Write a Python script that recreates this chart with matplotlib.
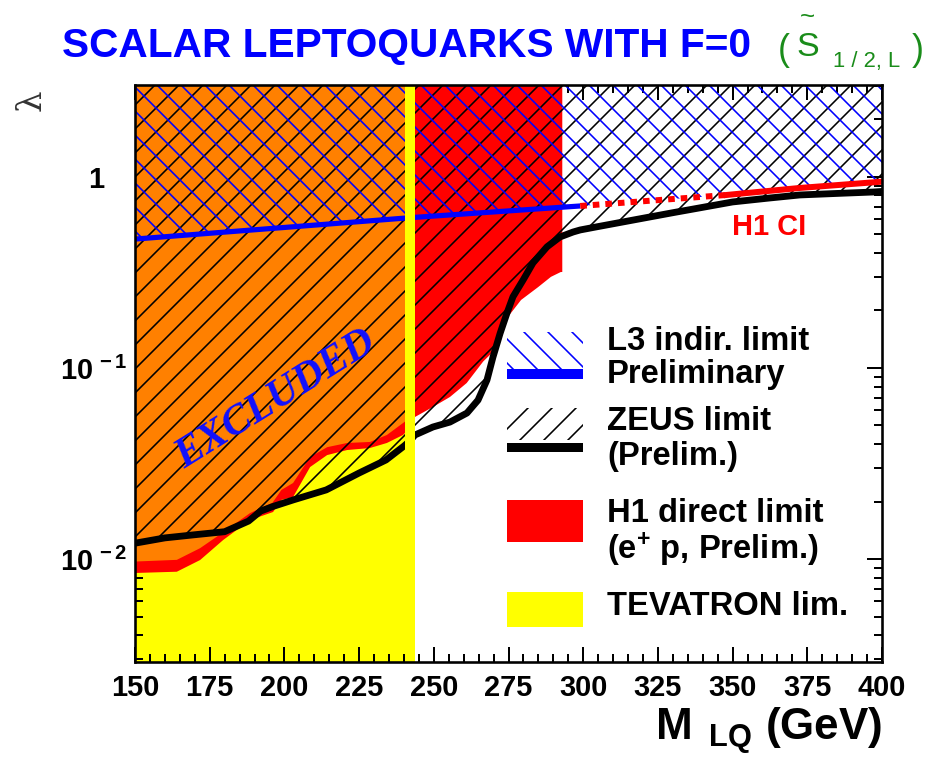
import matplotlib
matplotlib.use("Agg")
import matplotlib.pyplot as plt
from matplotlib.ticker import FixedLocator, MultipleLocator, LogLocator, FixedFormatter, NullFormatter
from matplotlib.patches import Rectangle

# ---------------- data ----------------
# ZEUS limit (black line), lambda vs M_LQ
zeus_m = [150, 160, 170, 180, 188, 192, 196, 203, 214, 225, 234, 240, 242,
          243.7, 249.7, 255.4, 261.1, 264.8, 267.8, 269.8, 272.2, 274.5, 276.5,
          279.9, 283.2, 287.9, 292.2, 296.6, 299, 305, 317, 330, 339, 350, 362,
          372.5, 385, 397, 400]
zeus_lam = [0.0121, 0.0129, 0.0134, 0.0139, 0.0158, 0.0178, 0.0188, 0.0204, 0.0230,
            0.0282, 0.0330, 0.0390, 0.0415,
            0.0446, 0.0491, 0.0521, 0.0581, 0.0679, 0.0865, 0.114, 0.152, 0.194, 0.236,
            0.289, 0.355, 0.431, 0.485, 0.515, 0.528, 0.55, 0.596, 0.65, 0.689, 0.740, 0.775,
            0.805, 0.82, 0.834, 0.84]

# H1 direct limit (red region lower boundary)
h1_m = [150, 164, 171.8, 179.5, 188.5, 196.2, 199, 202.9, 208.6, 214.3, 221, 228.6,
        234.3, 239.7, 242, 243.7, 249.7, 255.4, 261, 266.5, 271.5, 274.8, 279.2,
        284.9, 289.2, 292.5, 293]
h1_lam = [0.00845, 0.00858, 0.00988, 0.01257, 0.0160, 0.01762, 0.0204, 0.0211, 0.0303,
          0.0350, 0.0372, 0.0381, 0.0405, 0.0446, 0.0485, 0.0554, 0.0625, 0.0705, 0.0834,
          0.108, 0.129, 0.185, 0.227, 0.265, 0.300, 0.318, 0.318]

# overlap of H1 and TEVATRON exclusions (orange region lower boundary)
both_m = [150, 164, 171.8, 179.5, 188.5, 196, 199, 202.9, 208.6, 214.3, 221, 228.6,
          234.3, 239.7, 242]
both_lam = [0.0097, 0.0099, 0.0114, 0.0138, 0.0174, 0.0197, 0.0230, 0.0250, 0.0342,
            0.0385, 0.0405, 0.0410, 0.0446, 0.0515, 0.0548]

# L3 indirect limit
l3_m = [150, 242, 299, 348, 400]
l3_lam = [0.473, 0.612, 0.705, 0.805, 0.945]
l3_line_end = 299

# H1 contact-interaction limit
ci_dot_m = [299, 348]
ci_dot_lam = [0.705, 0.805]
ci_sol_m = [348, 372.5, 400]
ci_sol_lam = [0.805, 0.876, 0.945]

# TEVATRON mass limit
tevatron_limit = 242

x_ticks = [150, 175, 200, 225, 250, 275, 300, 325, 350, 375, 400]
y_ticks = [0.01, 0.1, 1]
y_tick_labels = [r"$10^{\,-2}$", r"$10^{\,-1}$", "1"]

XMIN, XMAX = 150, 400
YMIN, YMAX = 0.00289, 3.03
TOP = 10.0

# ---------------- style ----------------
plt.rcParams["font.family"] = ["Liberation Sans", "DejaVu Sans"]
plt.rcParams["font.weight"] = "bold"
plt.rcParams["mathtext.fontset"] = "custom"
plt.rcParams["mathtext.rm"] = "Liberation Sans:bold"
plt.rcParams["mathtext.it"] = "Liberation Sans:italic:bold"
plt.rcParams["mathtext.bf"] = "Liberation Sans:bold"
plt.rcParams["mathtext.default"] = "rm"
plt.rcParams["hatch.linewidth"] = 0.8

DPI = 144
fig = plt.figure(figsize=(944 / DPI, 760 / DPI), dpi=DPI)
fig.patch.set_facecolor("white")
ax = fig.add_axes([135 / 944, 1 - 662 / 760, (882 - 135) / 944, (662 - 85) / 760])
ax.set_yscale("log")
ax.set_xlim(XMIN, XMAX)
ax.set_ylim(YMIN, YMAX)

ORANGE = "#ff8000"
RED = "#ff0000"
YELLOW = "#ffff00"
BLUE = "#0000ff"

# TEVATRON excluded column
ax.fill_between([XMIN, tevatron_limit], [YMIN * 0.5] * 2, [TOP] * 2,
                facecolor=YELLOW, edgecolor="none", zorder=1)
# H1 direct
ax.fill_between(h1_m, h1_lam, TOP, facecolor=RED, edgecolor="none", zorder=2)
# overlap region
ax.fill_between(both_m, both_lam, TOP, facecolor=ORANGE, edgecolor="none", zorder=3)
# ZEUS hatch
ax.fill_between(zeus_m, zeus_lam, TOP, facecolor="none", edgecolor="black",
                hatch="//", linewidth=0, zorder=4)
# L3 hatch
ax.fill_between(l3_m, l3_lam, TOP, facecolor="none", edgecolor=BLUE,
                hatch="\\\\", linewidth=0, zorder=5)

# lines
l3_mx = [m for m in l3_m if m <= l3_line_end]
l3_ly = [v for m, v in zip(l3_m, l3_lam) if m <= l3_line_end]
ax.plot(l3_mx, l3_ly, color=BLUE, lw=2.6, zorder=6, solid_capstyle="butt")
ax.plot(zeus_m, zeus_lam, color="black", lw=3.4, zorder=6)
ax.plot(ci_dot_m, ci_dot_lam, color=RED, lw=3.0, zorder=6,
        linestyle=(0, (1.1, 1.0)), dash_capstyle="butt")
ax.plot(ci_sol_m, ci_sol_lam, color=RED, lw=3.0, zorder=6)
ax.axvline(tevatron_limit, color=YELLOW, lw=5, zorder=7)

# ticks
ax.xaxis.set_major_locator(FixedLocator(x_ticks))
ax.xaxis.set_minor_locator(MultipleLocator(5))
ax.yaxis.set_major_locator(FixedLocator(y_ticks))
ax.yaxis.set_major_formatter(FixedFormatter(y_tick_labels))
ax.yaxis.set_minor_locator(LogLocator(base=10, subs=[2, 3, 4, 5, 6, 7, 8, 9]))
ax.yaxis.set_minor_formatter(NullFormatter())
ax.tick_params(which="both", direction="in", top=True, right=True, width=1.0,
               color="black", zorder=8)
ax.tick_params(which="major", length=7.5)
ax.tick_params(which="minor", length=4)
ax.tick_params(axis="x", which="major", labelsize=14.5, pad=6)
ax.tick_params(axis="y", which="major", labelsize=14.5, pad=4)
for s in ax.spines.values():
    s.set_linewidth(1.3)
    s.set_zorder(8)

ax.set_xlabel(r"M $_{\,\rm LQ}$ (GeV)", fontsize=22, fontweight="bold", loc="right")
ax.xaxis.set_label_coords(1.0, -0.075)

# texts in plot
ax.text(0.189, 0.454, "EXCLUDED", transform=ax.transAxes, rotation=32,
        rotation_mode="anchor", ha="center", va="center", color="#1010ff",
        fontsize=21, fontweight="bold", fontstyle="italic",
        family=["Liberation Serif", "DejaVu Serif"], zorder=9)
ax.text(0.799, 0.740, "H1 CI", transform=ax.transAxes, color=RED,
        fontsize=14.5, fontweight="bold", zorder=9)

# legend (drawn by hand, as in the original)
lx, lw_ = 0.498, 0.102
ax.add_patch(Rectangle((lx, 0.506), lw_, 0.066, transform=ax.transAxes,
                       facecolor="white", edgecolor=BLUE, hatch="\\\\", lw=0, zorder=9))
ax.add_patch(Rectangle((lx, 0.4905), lw_, 0.0173, transform=ax.transAxes,
                       facecolor=BLUE, edgecolor="none", zorder=9))
ax.add_patch(Rectangle((lx, 0.3847), lw_, 0.0555, transform=ax.transAxes,
                       facecolor="white", edgecolor="black", hatch="//", lw=0, zorder=9))
ax.add_patch(Rectangle((lx, 0.364), lw_, 0.0155, transform=ax.transAxes,
                       facecolor="black", edgecolor="none", zorder=9))
ax.add_patch(Rectangle((lx, 0.208), lw_, 0.0728, transform=ax.transAxes,
                       facecolor=RED, edgecolor="none", zorder=9))
ax.add_patch(Rectangle((lx, 0.0607), lw_, 0.0606, transform=ax.transAxes,
                       facecolor=YELLOW, edgecolor="none", zorder=9))

leg_texts = [("L3 indir. limit", 0.5407), ("Preliminary", 0.4835),
             ("ZEUS limit", 0.4021), ("(Prelim.)", 0.3414),
             ("H1 direct limit", 0.2426), (r"(e$^{+}$ p, Prelim.)", 0.1785),
             ("TEVATRON lim.", 0.0815)]
for t, yy in leg_texts:
    ax.text(0.632, yy, t, transform=ax.transAxes, fontsize=16.4, fontweight="bold",
            va="baseline", ha="left", color="black", zorder=9)

# title and decorations
fig.text(62 / 944, 1 - 57 / 760, "SCALAR LEPTOQUARKS WITH F=0", color=BLUE,
         fontsize=20.3, fontweight="bold", ha="left", va="baseline")
GREEN = "#1a8c1a"
fig.text(784 / 944, 1 - 50 / 760, "(", color=GREEN, fontsize=18, fontweight="normal",
         ha="center", va="center")
fig.text(808 / 944, 1 - 47 / 760, "S", color=GREEN, fontsize=17, fontweight="normal",
         ha="center", va="center")
fig.text(807 / 944, 1 - 17 / 760, "~", color=GREEN, fontsize=13, fontweight="normal",
         ha="center", va="center")
fig.text(867 / 944, 1 - 62 / 760, "1 / 2, L", color=GREEN, fontsize=11,
         fontweight="normal", ha="center", va="center")
fig.text(918 / 944, 1 - 50 / 760, ")", color=GREEN, fontsize=18, fontweight="normal",
         ha="center", va="center")
fig.text(32 / 944, 1 - 100 / 760, "λ", rotation=90, fontsize=17, fontweight="normal",
         family=["DejaVu Serif"], ha="center", va="center", color="#333333")

# the "1" label sits further left in the original layout
ymajor = ax.yaxis.get_major_ticks(len(y_ticks))
ymajor[y_ticks.index(1)].set_pad(15.5)

fig.savefig("out.png", dpi=DPI)
